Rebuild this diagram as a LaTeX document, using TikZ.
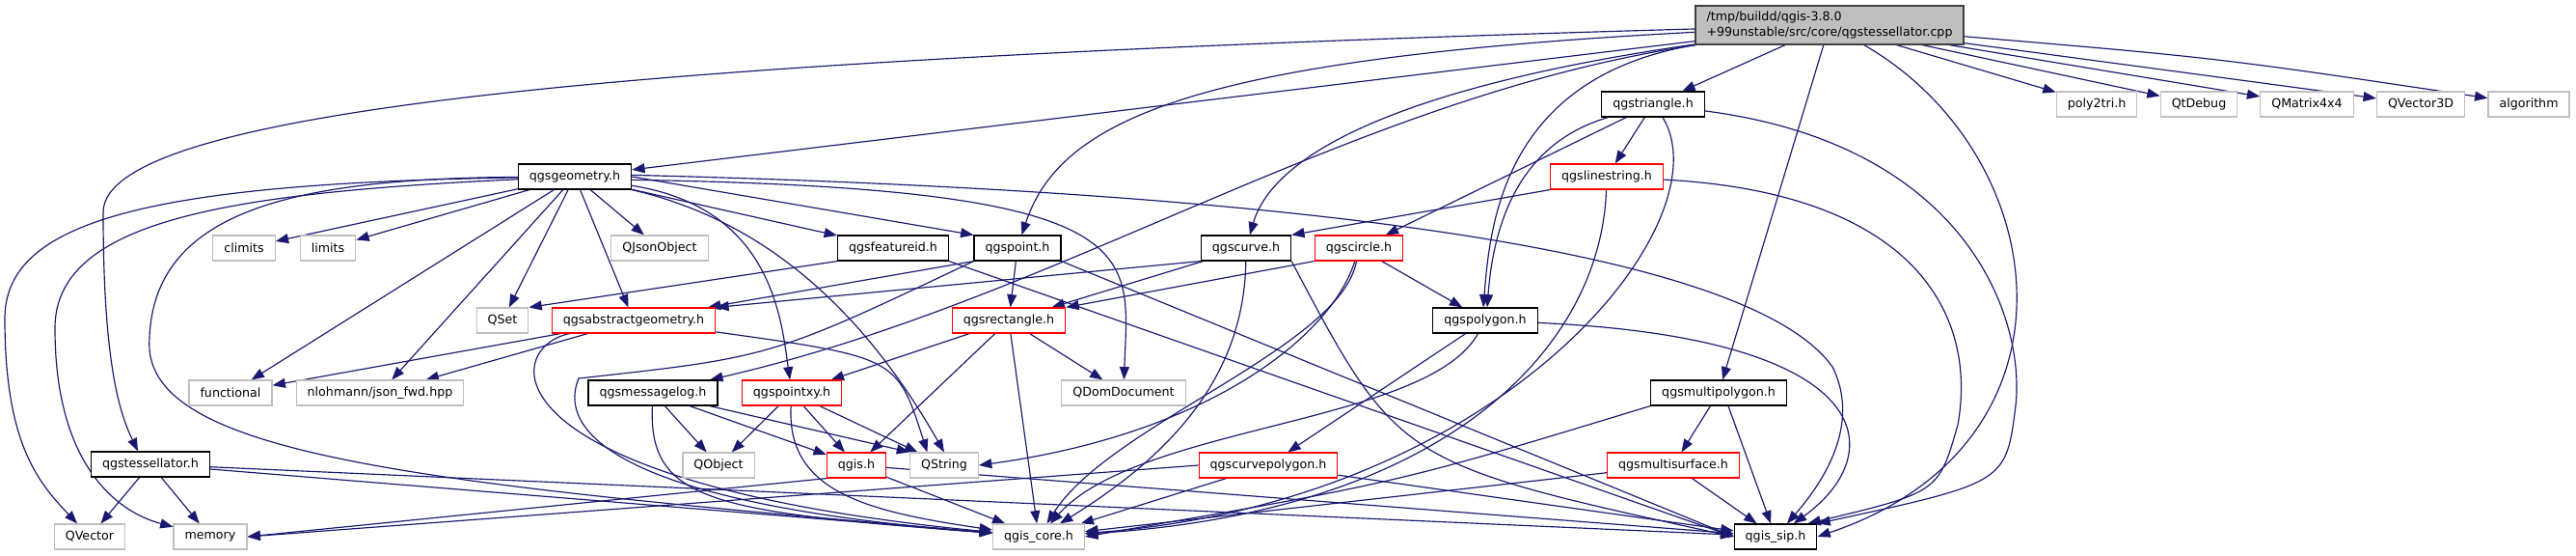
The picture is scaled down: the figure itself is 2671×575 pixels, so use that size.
\documentclass[tikz,border=0pt]{standalone}
\usepackage{fontspec}
\newfontfamily\dejavu{DejaVu Sans}
\usetikzlibrary{arrows.meta, backgrounds}

\definecolor{edgeblue}{HTML}{191970}
\definecolor{extgray}{HTML}{BFBFBF}
\definecolor{cutred}{HTML}{FF0000}
\definecolor{rootline}{HTML}{404040}

\begin{document}
\begin{tikzpicture}[
    x=0.03cm, y=-0.03cm,
    hdr/.style={draw=black, line width=1pt, fill=white, inner xsep=0.345cm, inner ysep=0pt,
        minimum height=0.78cm, font={\dejavu\fontsize{10.8}{13.6}\selectfont}},
    syshdr/.style={hdr, draw=extgray},
    cuthdr/.style={hdr, draw=cutred},
    srcfile/.style={hdr, fill=extgray, draw=rootline, align=left, minimum height=1.2cm, inner ysep=0.1cm},
    incl/.style={-{Triangle[length=0.4cm, width=0.3cm]}, line width=1pt, edgeblue}
]
\useasboundingbox (0,0) rectangle (2671,575);

% Source file
\node[srcfile] (root) at (1897,26) {/tmp/buildd/qgis-3.8.0\\+99unstable/src/core/qgstessellator.cpp};

% Second row
\node[hdr] (triangle) at (1714,108) {qgstriangle.h};
\node[syshdr] (poly2tri) at (2174,108) {poly2tri.h};
\node[syshdr] (qtdebug) at (2280,108) {QtDebug};
\node[syshdr] (qmatrix) at (2392,108) {QMatrix4x4};
\node[syshdr] (qvec3d) at (2510,108) {QVector3D};
\node[syshdr] (algorithm) at (2622,108) {algorithm};

\node[hdr] (geom) at (596,183) {qgsgeometry.h};
\node[cuthdr] (linestring) at (1666,183) {qgslinestring.h};

\node[syshdr] (climits) at (253,257) {climits};
\node[syshdr] (limits) at (340,257) {limits};
\node[syshdr] (qjson) at (684,257) {QJsonObject};
\node[hdr] (featureid) at (926,257) {qgsfeatureid.h};
\node[hdr] (point) at (1055,257) {qgspoint.h};
\node[hdr] (curve) at (1292,257) {qgscurve.h};
\node[cuthdr] (circle) at (1409,257) {qgscircle.h};

\node[syshdr] (qset) at (521,332) {QSet};
\node[cuthdr] (absgeom) at (657,332) {qgsabstractgeometry.h};
\node[cuthdr] (rect) at (1046,332) {qgsrectangle.h};
\node[hdr] (polygon) at (1540,332) {qgspolygon.h};

\node[syshdr] (functional) at (239,407) {functional};
\node[syshdr] (json) at (394,407) {nlohmann/json\_fwd.hpp};
\node[hdr] (msglog) at (677,407) {qgsmessagelog.h};
\node[cuthdr] (pointxy) at (821,407) {qgspointxy.h};
\node[syshdr] (qdomdoc) at (1165,407) {QDomDocument};
\node[hdr] (multipoly) at (1782,407) {qgsmultipolygon.h};

\node[hdr] (tessh) at (156,481) {qgstessellator.h};
\node[syshdr] (qobject) at (745,482) {QObject};
\node[cuthdr] (qgis) at (888,482) {qgis.h};
\node[syshdr] (qstring) at (979,482) {QString};
\node[cuthdr] (curvepoly) at (1315,482) {qgscurvepolygon.h};
\node[cuthdr] (multisurf) at (1735,482) {qgsmultisurface.h};

% Bottom row
\node[syshdr] (qvector) at (93,556) {QVector};
\node[syshdr] (memory) at (218,556) {memory};
\node[syshdr] (core) at (1077,556) {qgis\_core.h};
\node[hdr] (sip) at (1841,556) {qgis\_sip.h};

\begin{scope}[on background layer]
% includes of the source file
\draw[incl] (root) .. controls (700,60) and (107,110) .. (107,220) .. controls (107,380) and (125,430) .. ([xshift=-0.39cm]tessh.north);
\draw[incl] (root) -- (geom);
\draw[incl] (root) .. controls (1250,60) and (1100,120) .. (point);
\draw[incl] (root) .. controls (1450,90) and (1320,160) .. (curve);
\draw[incl] (root) .. controls (1400,100) and (1100,310) .. (msglog);
\draw[incl] (root.south west) .. controls (1560,80) and (1545,230) .. ([xshift=-0.06cm]polygon.north);
\draw[incl] (root) -- (triangle);
\draw[incl] (root) -- (multipoly);
\draw[incl] (root) .. controls (2130,160) and (2170,460) .. (sip.east);
\draw[incl] (root) -- (poly2tri);
\draw[incl] (root) -- (qtdebug);
\draw[incl] (root) -- (qmatrix);
\draw[incl] (root) -- (qvec3d);
\draw[incl] (root) .. controls (2300,60) .. (algorithm);

% qgsgeometry.h
\draw[incl] (geom) .. controls (150,190) and (5,230) .. (5,330) .. controls (5,460) and (40,500) .. (qvector);
\draw[incl] (geom) .. controls (230,200) and (57,230) .. (57,340) .. controls (57,480) and (120,530) .. (memory);
\draw[incl] (geom) .. controls (300,185) and (160,220) .. (155,350) .. controls (145,470) and (420,500) .. (core);
\draw[incl] (geom) -- (climits);
\draw[incl] (geom) -- (limits);
\draw[incl] (geom) -- (functional);
\draw[incl] (geom) -- (json);
\draw[incl] (geom) -- (qset);
\draw[incl] (geom) -- (absgeom);
\draw[incl] (geom) -- (qjson);
\draw[incl] (geom) .. controls (800,215) and (810,330) .. (pointxy);
\draw[incl] (geom) .. controls (800,230) and (900,330) .. (qstring.north);
\draw[incl] (geom) -- (featureid);
\draw[incl] (geom.east) -- (point.north west);
\draw[incl] ([yshift=-0.1cm]geom.east) .. controls (1200,195) and (1170,260) .. (qdomdoc);
\draw[incl] ([yshift=0.05cm]geom.east) .. controls (1200,195) and (1800,240) .. (1900,380) .. controls (1930,440) and (1890,500) .. (sip);

% qgstessellator.h
\draw[incl] (tessh) -- (qvector);
\draw[incl] (tessh) -- (memory);
\draw[incl] (tessh) -- (core);
\draw[incl] (tessh) -- (sip);

% qgsfeatureid.h
\draw[incl] (featureid.south west) -- (qset.north east);
\draw[incl] (featureid.south east) -- (sip.west);

% qgspoint.h
\draw[incl] (point.south west) -- ([xshift=-0.25cm]absgeom.north east);
\draw[incl] (point) -- (rect);
\draw[incl] (point.south east) -- (sip.west);
\draw[incl] (point.south west) .. controls (800,370) .. (600,392) .. controls (580,440) and (620,520) .. (core);

% qgscurve.h
\draw[incl] (curve.south west) -- (absgeom.north east);
\draw[incl] (curve) -- (rect);
\draw[incl] (curve) .. controls (1290,400) and (1200,480) .. (core);
\draw[incl] (curve.south east) .. controls (1450,480) .. (sip.west);

% qgscircle.h
\draw[incl] (circle.south west) -- (rect.north east);
\draw[incl] (circle) -- (polygon);
\draw[incl] (circle) .. controls (1380,350) and (1250,450) .. (qstring.east);
\draw[incl] (circle) .. controls (1390,360) and (1150,440) .. (core);

% qgstriangle.h
\draw[incl] (triangle) -- (linestring);
\draw[incl] (triangle) -- (circle);
\draw[incl] (triangle) .. controls (1570,150) and (1548,240) .. ([xshift=0.06cm]polygon.north);
\draw[incl] ([xshift=0.3cm]triangle.south) .. controls (1790,230) and (1560,520) .. (core);
\draw[incl] (triangle) .. controls (2040,150) and (2100,330) .. (2090,420) .. controls (2080,500) .. (sip.north east);

% qgslinestring.h
\draw[incl] (linestring.south west) -- (curve.north east);
\draw[incl] (linestring) .. controls (1660,360) and (1500,530) .. (core);
\draw[incl] (linestring) .. controls (1990,200) and (2050,330) .. (2030,440) .. controls (2010,510) .. ([xshift=-0.3cm]sip.north east);

% qgspolygon.h
\draw[incl] (polygon) -- (curvepoly);
\draw[incl] (polygon) .. controls (1480,440) and (1180,440) .. (core);
\draw[incl] (polygon) .. controls (1950,350) and (1960,470) .. (sip);

% qgsmultipolygon.h
\draw[incl] (multipoly) -- (multisurf);
\draw[incl] ([xshift=0.3cm]multipoly.south) -- (sip);
\draw[incl] (multipoly.south west) .. controls (1450,500) .. (core.east);

% qgsmultisurface.h
\draw[incl] (multisurf) -- (core);
\draw[incl] (multisurf) -- (sip);

% qgscurvepolygon.h
\draw[incl] (curvepoly.west) -- (memory.east);
\draw[incl] (curvepoly) -- (core);
\draw[incl] (curvepoly) -- (sip);

% qgsrectangle.h
\draw[incl] (rect) -- (pointxy);
\draw[incl] (rect) -- (qgis);
\draw[incl] (rect) -- (qdomdoc);
\draw[incl] (rect) -- (core);

% qgsabstractgeometry.h
\draw[incl] (absgeom) -- (functional);
\draw[incl] (absgeom) -- (json);
\draw[incl] (absgeom) .. controls (930,370) .. ([xshift=0.55cm]qstring.north west);
\draw[incl] (absgeom) .. controls (520,360) and (500,500) .. (core);

% qgsmessagelog.h
\draw[incl] (msglog) -- (qobject);
\draw[incl] (msglog) -- (qgis);
\draw[incl] (msglog) -- (qstring.north west);
\draw[incl] (msglog) .. controls (672,520) and (740,530) .. (core);

% qgspointxy.h
\draw[incl] (pointxy) -- (qobject);
\draw[incl] (pointxy) -- (qgis);
\draw[incl] (pointxy) -- ([xshift=0.25cm]qstring.north west);
\draw[incl] (pointxy) .. controls (815,510) and (900,530) .. (core);

% qgis.h
\draw[incl] (qgis.south west) -- (memory.east);
\draw[incl] (qgis) -- (core);
\draw[incl] (qgis) -- (sip);
\end{scope}

\end{tikzpicture}
\end{document}
